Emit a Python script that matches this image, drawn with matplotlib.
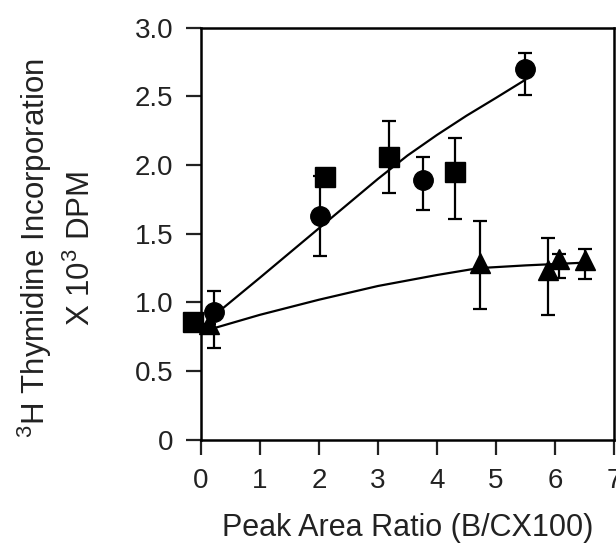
import numpy as np
import matplotlib.pyplot as plt

plt.rcParams['font.family'] = ['Liberation Sans', 'DejaVu Sans']
plt.rcParams['mathtext.fontset'] = 'custom'
plt.rcParams['mathtext.rm'] = 'Liberation Sans'
plt.rcParams['mathtext.it'] = 'Liberation Sans'

# circles
circ_x = [0.22, 2.02, 3.76, 5.49]
circ_y = [0.93, 1.63, 1.89, 2.70]
circ_lo = [0.26, 0.29, 0.22, 0.19]
circ_hi = [0.15, 0.29, 0.17, 0.12]

# squares
sq_x = [-0.13, 2.10, 3.19, 4.30]
sq_y = [0.86, 1.91, 2.06, 1.95]
sq_lo = [0.0, 0.0, 0.26, 0.34]
sq_hi = [0.0, 0.0, 0.26, 0.25]

# triangles
tri_x = [0.14, 4.72, 5.88, 6.07, 6.51]
tri_y = [0.84, 1.29, 1.24, 1.32, 1.31]
tri_lo = [0.0, 0.34, 0.33, 0.14, 0.14]
tri_hi = [0.0, 0.30, 0.23, 0.03, 0.08]

# fitted curves
up_x = [0.21, 1.0, 2.0, 2.5, 3.0, 3.5, 4.0, 4.5, 5.0, 5.49]
up_y = [0.90, 1.18, 1.54, 1.72, 1.90, 2.07, 2.22, 2.36, 2.49, 2.62]
low_x = [0.2, 1.0, 2.0, 3.0, 4.0, 4.7, 5.5, 6.5]
low_y = [0.81, 0.91, 1.02, 1.12, 1.20, 1.25, 1.27, 1.29]

fig = plt.figure(figsize=(6.16, 5.45), dpi=100)
ax = fig.add_axes([0.326, 0.193, 0.671, 0.756])

ax.plot(up_x, up_y, color='black', lw=1.6, zorder=2)
ax.plot(low_x, low_y, color='black', lw=1.6, zorder=2)

def series(x, y, lo, hi, marker):
    ax.errorbar(x, y, yerr=[lo, hi], fmt='none', ecolor='black',
                elinewidth=1.6, capsize=5, capthick=1.6, zorder=3)
    ax.plot(x, y, linestyle='none', marker=marker, color='black',
            markersize=14, clip_on=False, zorder=4)

series(tri_x, tri_y, tri_lo, tri_hi, '^')
series(sq_x, sq_y, sq_lo, sq_hi, 's')
series(circ_x, circ_y, circ_lo, circ_hi, 'o')

ax.set_xlim(0, 7)
ax.set_ylim(0, 3.0)
ax.set_xticks(range(8))
ax.set_yticks([0, 0.5, 1.0, 1.5, 2.0, 2.5, 3.0])
ax.set_yticklabels(['0', '0.5', '1.0', '1.5', '2.0', '2.5', '3.0'])
ax.tick_params(direction='out', length=11, width=1.6, labelsize=20, pad=9,
               colors='#222222')
for s in ax.spines.values():
    s.set_linewidth(1.8)

ax.set_xlabel('Peak Area Ratio (B/CX100)', fontsize=22, labelpad=14,
              color='#222222')

# y label as two separate lines (wide line gap in the original)
fig.text(0.057, 0.545, '$^{3}$H Thymidine Incorporation', rotation=90,
         ha='center', va='center', fontsize=22.5, color='#222222')
fig.text(0.132, 0.545, 'X 10$^{3}$ DPM', rotation=90,
         ha='center', va='center', fontsize=22.5, color='#222222')

fig.savefig('out.png', dpi=100)
